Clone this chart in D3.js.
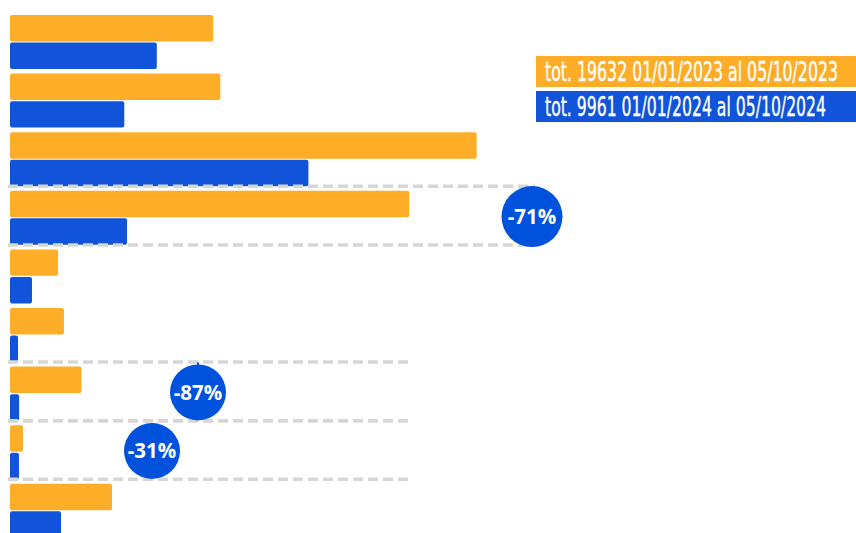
<!DOCTYPE html>
<html lang="it">
<head>
  <meta charset="UTF-8" />
  <title>Confronto 2023 / 2024</title>
  <script src="https://d3js.org/d3.v7.min.js"></script>
  <style>
    * { margin: 0; padding: 0; box-sizing: border-box; }
    body { background: #fff; width: 856px; height: 533px; overflow: hidden; }
    svg { display: block; }
    .legend text {
      font-family: 'Liberation Sans Narrow', 'DejaVu Sans Condensed', sans-serif;
      font-stretch: condensed;
      fill: #fff;
      stroke: #fff;
      stroke-width: 0.25;
    }
    .badge text {
      font-family: 'Open Sans', 'Noto Sans', sans-serif;
      font-weight: 700;
      fill: #fff;
    }
  </style>
</head>
<body>
  <svg id="chart" width="856" height="533"></svg>

  <script>
    // categories (no labels shown in the picture)
    const categories = ['c1', 'c2', 'c3', 'c4', 'c5', 'c6', 'c7', 'c8', 'c9'];
    const series = ['2023', '2024'];
    const values2023 = [2560, 2650, 5880, 5030, 605, 680, 900, 164, 1285];
    const values2024 = [1850, 1440, 3760, 1475, 277, 101, 115, 113, 643];
    const legendLabels = [
      'tot. 19632 01/01/2023 al 05/10/2023',
      'tot. 9961 01/01/2024 al 05/10/2024'
    ];
    // highlighted rows and their change labels
    const highlightCats = ['c4', 'c7', 'c8'];
    const highlightLabels = ['-71%', '-87%', '-31%'];

    const ORANGE = '#fead29';
    const BLUE = '#1154d9';
    const BADGE = '#0051db';
    const DASH = '#d6d6d6';

    const svg = d3.select('#chart');

    const x = d3.scaleLinear().domain([0, 6300]).range([10, 510]);
    const y = d3.scaleBand().domain(categories).range([13, 13 + 9 * 58.6]).padding(0);
    const ySub = d3.scaleBand().domain(series).range([2, 56]).paddingInner(0.04);
    const color = d3.scaleOrdinal().domain(series).range([ORANGE, BLUE]);

    const rows = categories.map((c, i) => ({
      cat: c,
      vals: [
        { s: '2023', v: values2023[i] },
        { s: '2024', v: values2024[i] }
      ]
    }));

    // bars
    const g = svg.append('g').attr('class', 'bars');
    g.selectAll('g')
      .data(rows)
      .join('g')
      .attr('transform', d => `translate(0,${y(d.cat)})`)
      .selectAll('rect')
      .data(d => d.vals)
      .join('rect')
      .attr('x', x(0))
      .attr('y', d => ySub(d.s))
      .attr('width', d => x(d.v) - x(0))
      .attr('height', ySub.bandwidth())
      .attr('rx', 2)
      .attr('fill', d => color(d.s));

    // dashed separators around highlighted rows
    const lineEnd = { c4: 535, c7: 412, c8: 409 };
    const badgeX = { c4: 532, c7: 198, c8: 152 };
    const lines = [];
    highlightCats.forEach(c => {
      const top = y(c) - 2.5;
      lines.push({ y: top, x2: lineEnd[c] });
      lines.push({ y: top + y.step(), x2: lineEnd[c] });
    });
    svg.append('g').attr('class', 'sep')
      .selectAll('line')
      .data(lines)
      .join('line')
      .attr('x1', 8)
      .attr('x2', d => d.x2)
      .attr('y1', d => d.y)
      .attr('y2', d => d.y)
      .attr('stroke', DASH)
      .attr('stroke-width', 3.5)
      .attr('stroke-dasharray', '10,5');

    // badges
    const badges = svg.append('g').attr('class', 'badge')
      .selectAll('g')
      .data(highlightCats.map((c, i) => ({ cat: c, label: highlightLabels[i] })))
      .join('g')
      .attr('transform', d => `translate(${badgeX[d.cat]},${y(d.cat) + y.bandwidth() / 2 - 1.5})`);

    badges.filter(d => d.cat === 'c7')
      .append('line')
      .attr('x1', 0).attr('x2', 0)
      .attr('y1', -30).attr('y2', -26)
      .attr('stroke', BADGE).attr('stroke-width', 2);

    badges.append('circle')
      .attr('r', d => d.cat === 'c4' ? 30.5 : 28)
      .attr('fill', BADGE);

    badges.append('text')
      .attr('text-anchor', 'middle')
      .attr('dy', '0.36em')
      .attr('font-size', 20.5)
      .text(d => d.label);

    // legend
    const legend = svg.append('g').attr('class', 'legend')
      .attr('transform', 'translate(536,56)');
    const lg = legend.selectAll('g')
      .data(series)
      .join('g')
      .attr('transform', (d, i) => `translate(0,${i * 35})`);
    lg.append('rect')
      .attr('width', 320)
      .attr('height', 31)
      .attr('fill', d => color(d));
    // condensed look: small font stretched vertically, width fitted
    lg.append('text')
      .attr('transform', 'translate(9,24.5) scale(1,1.44)')
      .attr('font-size', 18)
      .attr('textLength', (d, i) => i === 0 ? 293 : 281)
      .attr('lengthAdjust', 'spacingAndGlyphs')
      .text((d, i) => legendLabels[i]);
  </script>
</body>
</html>
